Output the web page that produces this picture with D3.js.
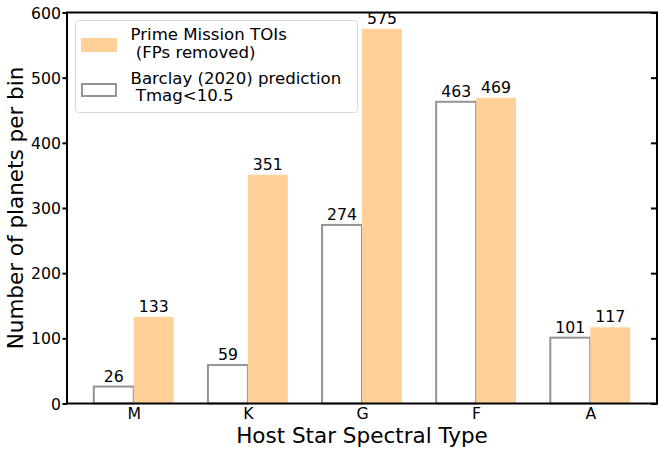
<!DOCTYPE html>
<html>
<head>
<meta charset="utf-8" />
<script src="https://cdn.jsdelivr.net/npm/d3@7"></script>
<style>
  body { margin: 0; background: #fff; }
  text { font-family: "DejaVu Sans", sans-serif; fill: #000; }
</style>
</head>
<body>
<svg id="chart" width="659" height="449"></svg>
<script>
  // data
  var types = ['M', 'K', 'G', 'F', 'A']
  var barclay = [26, 59, 274, 463, 101]
  var toiCounts = [133, 351, 575, 469, 117]
  var yTicks = [0, 100, 200, 300, 400, 500, 600]

  var svg = d3.select('#chart')
  var margin = {left: 67, right: 2, top: 12.5, bottom: 45.5}
  var width = 659 - margin.left - margin.right,
      height = 449 - margin.top - margin.bottom
  var fs = 15.7

  var g = svg.append('g').attr('transform', 'translate(' + margin.left + ',' + margin.top + ')')

  var bw = 0.35
  var x = d3.scaleLinear().domain([-0.585, 4.585]).range([0, width])
  var y = d3.scaleLinear().domain([0, 600]).range([height, 0])

  // barclay (hollow) bars
  g.append('g').selectAll('rect')
    .data(barclay)
    .enter().append('rect')
    .attr('x', (d, i) => x(i - bw))
    .attr('width', x(bw) - x(0))
    .attr('y', d => y(d))
    .attr('height', d => y(0) - y(d))
    .attr('fill', '#fff')
    .attr('stroke', '#949494')
    .attr('stroke-width', 2)

  // TOI bars
  g.append('g').selectAll('rect')
    .data(toiCounts)
    .enter().append('rect')
    .attr('x', (d, i) => x(i))
    .attr('width', x(bw) - x(0))
    .attr('y', d => y(d))
    .attr('height', d => y(0) - y(d))
    .attr('fill', '#ffd199')

  // value labels
  var lab = g.append('g').attr('font-size', fs).attr('text-anchor', 'middle')
  lab.selectAll('.lb')
    .data(barclay)
    .enter().append('text')
    .attr('x', (d, i) => x(i - bw / 2))
    .attr('y', d => y(d) - 5)
    .text(d => d)
  lab.selectAll('.lt')
    .data(toiCounts)
    .enter().append('text')
    .attr('x', (d, i) => x(i + bw / 2))
    .attr('y', d => y(d) - 5)
    .text(d => d)

  // axes
  var yAxis = g.append('g')
    .call(d3.axisLeft(y).tickValues(yTicks).tickSize(4.5).tickPadding(1.5))
  yAxis.select('.domain').remove()
  yAxis.selectAll('line').attr('stroke-width', 2)
  yAxis.selectAll('text').attr('font-size', fs).attr('dy', '0.35em')

  var yRight = g.append('g').attr('transform', 'translate(' + width + ',0)')
    .call(d3.axisLeft(y).tickValues(yTicks).tickSize(6).tickFormat(''))
  yRight.select('.domain').remove()
  yRight.selectAll('line').attr('stroke-width', 2)

  var xAxis = g.append('g').attr('transform', 'translate(0,' + height + ')')
    .call(d3.axisBottom(x).tickValues(d3.range(types.length)).tickSize(0).tickPadding(4)
      .tickFormat(i => types[i]))
  xAxis.select('.domain').remove()
  xAxis.selectAll('text').attr('font-size', fs).attr('dy', '0.71em')

  // frame
  g.append('rect')
    .attr('width', width).attr('height', height)
    .attr('fill', 'none').attr('stroke', '#000').attr('stroke-width', 2)

  // axis titles
  svg.append('text')
    .attr('x', margin.left + width / 2).attr('y', 443)
    .attr('text-anchor', 'middle').attr('font-size', 21.5)
    .text('Host Star Spectral Type')
  svg.append('text')
    .attr('transform', 'translate(23,' + (margin.top + height / 2) + ') rotate(-90)')
    .attr('text-anchor', 'middle').attr('font-size', 21.5)
    .text('Number of planets per bin')

  // legend
  var leg = svg.append('g')
  leg.append('rect')
    .attr('x', 75.5).attr('y', 20.5).attr('width', 282).attr('height', 92)
    .attr('rx', 3).attr('fill', '#fff').attr('fill-opacity', 0.8)
    .attr('stroke', '#d9d9d9').attr('stroke-width', 1)
  leg.append('rect')
    .attr('x', 81).attr('y', 38).attr('width', 36).attr('height', 14)
    .attr('fill', '#ffd199')
  leg.append('rect')
    .attr('x', 82).attr('y', 84).attr('width', 34).attr('height', 12)
    .attr('fill', '#fff').attr('stroke', '#949494').attr('stroke-width', 2)
  var legText = [
    ['Prime Mission TOIs', 40], ['\u00a0(FPs removed)', 57.5],
    ['Barclay (2020) prediction', 83.5], ['\u00a0Tmag<10.5', 100.5]
  ]
  leg.selectAll('.lt')
    .data(legText)
    .enter().append('text')
    .attr('x', 130.5).attr('y', d => d[1])
    .attr('font-size', 16.6)
    .text(d => d[0])
</script>
</body>
</html>
